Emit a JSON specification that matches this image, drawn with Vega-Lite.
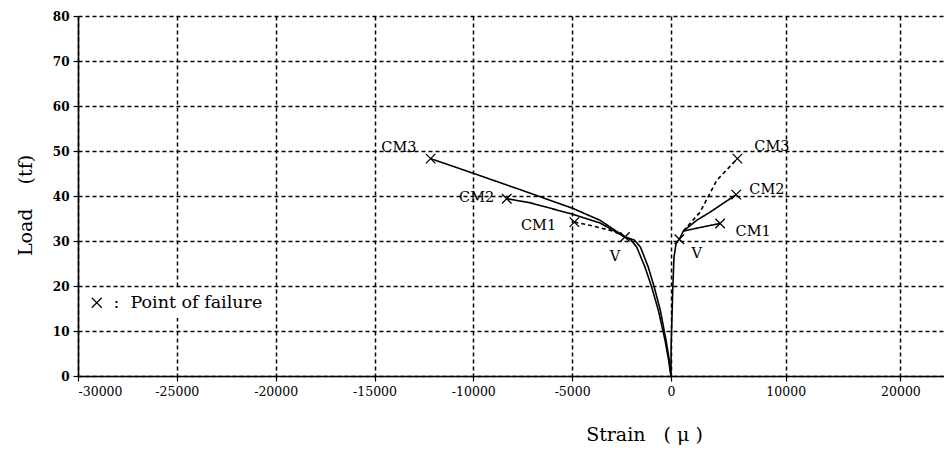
{
  "$schema": "https://vega.github.io/schema/vega-lite/v6.json",
  "autosize": {"type": "none"},
  "width": 866,
  "height": 360,
  "padding": {"left": 78, "top": 16, "right": 0, "bottom": 75},
  "background": "white",
  "config": {
    "view": {"stroke": null},
    "axis": {
      "domainColor": "black",
      "domainWidth": 1.6,
      "tickColor": "black",
      "tickWidth": 1.2,
      "tickSize": 5,
      "labelFont": "DejaVu Serif",
      "labelFontSize": 12.5,
      "labelColor": "black",
      "gridColor": "black",
      "gridDash": [4, 3],
      "gridWidth": 1.5,
      "gridOpacity": 1,
      "titleFont": "DejaVu Serif",
      "titleFontSize": 19,
      "titleFontWeight": "normal",
      "titleColor": "black"
    }
  },
  "datasets": {
    "curves": [
      {"series": "L-base1", "i": 0, "strain": 0, "load": 0, "dash": "solid"},
      {"series": "L-base1", "i": 1, "strain": -135, "load": 3.9, "dash": "solid"},
      {"series": "L-base1", "i": 2, "strain": -300, "load": 7.9, "dash": "solid"},
      {"series": "L-base1", "i": 3, "strain": -640, "load": 14.6, "dash": "solid"},
      {"series": "L-base1", "i": 4, "strain": -980, "load": 19.8, "dash": "solid"},
      {"series": "L-base1", "i": 5, "strain": -1315, "load": 24.2, "dash": "solid"},
      {"series": "L-base1", "i": 6, "strain": -1740, "load": 28.7, "dash": "solid"},
      {"series": "L-base1", "i": 7, "strain": -2050, "load": 30.3, "dash": "solid"},
      {"series": "L-base1", "i": 8, "strain": -2330, "load": 30.9, "dash": "solid"},
      {"series": "L-base2", "i": 0, "strain": 0, "load": 0, "dash": "solid"},
      {"series": "L-base2", "i": 1, "strain": -100, "load": 3.9, "dash": "solid"},
      {"series": "L-base2", "i": 2, "strain": -250, "load": 7.9, "dash": "solid"},
      {"series": "L-base2", "i": 3, "strain": -540, "load": 14.6, "dash": "solid"},
      {"series": "L-base2", "i": 4, "strain": -850, "load": 19.8, "dash": "solid"},
      {"series": "L-base2", "i": 5, "strain": -1150, "load": 24.2, "dash": "solid"},
      {"series": "L-base2", "i": 6, "strain": -1540, "load": 28.6, "dash": "solid"},
      {"series": "L-base2", "i": 7, "strain": -1850, "load": 30.2, "dash": "solid"},
      {"series": "L-base2", "i": 8, "strain": -2330, "load": 30.9, "dash": "solid"},
      {"series": "L-CM3", "i": 0, "strain": -2330, "load": 30.9, "dash": "solid"},
      {"series": "L-CM3", "i": 1, "strain": -3590, "load": 34.6, "dash": "solid"},
      {"series": "L-CM3", "i": 2, "strain": -4940, "load": 37.2, "dash": "solid"},
      {"series": "L-CM3", "i": 3, "strain": -7300, "load": 40.9, "dash": "solid"},
      {"series": "L-CM3", "i": 4, "strain": -10170, "load": 45.3, "dash": "solid"},
      {"series": "L-CM3", "i": 5, "strain": -12160, "load": 48.3, "dash": "solid"},
      {"series": "L-CM2", "i": 0, "strain": -2330, "load": 30.9, "dash": "solid"},
      {"series": "L-CM2", "i": 1, "strain": -3590, "load": 34.0, "dash": "solid"},
      {"series": "L-CM2", "i": 2, "strain": -4940, "load": 35.9, "dash": "solid"},
      {"series": "L-CM2", "i": 3, "strain": -7130, "load": 38.5, "dash": "solid"},
      {"series": "L-CM2", "i": 4, "strain": -8310, "load": 39.4, "dash": "solid"},
      {"series": "L-CM1", "i": 0, "strain": -2330, "load": 30.9, "dash": "dash"},
      {"series": "L-CM1", "i": 1, "strain": -2920, "load": 32.2, "dash": "dash"},
      {"series": "L-CM1", "i": 2, "strain": -4000, "load": 33.4, "dash": "dash"},
      {"series": "L-CM1", "i": 3, "strain": -4890, "load": 34.2, "dash": "dash"},
      {"series": "R-base", "i": 0, "strain": 0, "load": 0, "dash": "solid"},
      {"series": "R-base", "i": 1, "strain": 10, "load": 6.4, "dash": "solid"},
      {"series": "R-base", "i": 2, "strain": 150, "load": 19.0, "dash": "solid"},
      {"series": "R-base", "i": 3, "strain": 260, "load": 26.4, "dash": "solid"},
      {"series": "R-base", "i": 4, "strain": 440, "load": 29.4, "dash": "solid"},
      {"series": "R-base", "i": 5, "strain": 725, "load": 30.4, "dash": "solid"},
      {"series": "R-base", "i": 6, "strain": 1075, "load": 32.2, "dash": "solid"},
      {"series": "R-CM3", "i": 0, "strain": 1075, "load": 32.2, "dash": "dash"},
      {"series": "R-CM3", "i": 1, "strain": 1660, "load": 33.9, "dash": "dash"},
      {"series": "R-CM3", "i": 2, "strain": 2530, "load": 36.4, "dash": "dash"},
      {"series": "R-CM3", "i": 3, "strain": 3990, "load": 43.5, "dash": "dash"},
      {"series": "R-CM3", "i": 4, "strain": 5790, "load": 48.3, "dash": "dash"},
      {"series": "R-CM2", "i": 0, "strain": 1075, "load": 32.2, "dash": "solid"},
      {"series": "R-CM2", "i": 1, "strain": 2240, "load": 34.6, "dash": "solid"},
      {"series": "R-CM2", "i": 2, "strain": 3400, "load": 36.4, "dash": "solid"},
      {"series": "R-CM2", "i": 3, "strain": 5680, "load": 40.3, "dash": "solid"},
      {"series": "R-CM1", "i": 0, "strain": 1075, "load": 32.2, "dash": "solid"},
      {"series": "R-CM1", "i": 1, "strain": 2530, "load": 33.0, "dash": "solid"},
      {"series": "R-CM1", "i": 2, "strain": 4280, "load": 33.9, "dash": "solid"}
    ],
    "points": [
      {"strain": -12160, "load": 48.3, "kind": "Point of failure"},
      {"strain": -8310, "load": 39.4, "kind": "Point of failure"},
      {"strain": -4890, "load": 34.2, "kind": "Point of failure"},
      {"strain": -2330, "load": 30.9, "kind": "Point of failure"},
      {"strain": 5790, "load": 48.3, "kind": "Point of failure"},
      {"strain": 5680, "load": 40.3, "kind": "Point of failure"},
      {"strain": 4280, "load": 33.9, "kind": "Point of failure"},
      {"strain": 725, "load": 30.4, "kind": "Point of failure"}
    ],
    "labels": [
      {"strain": -13765, "load": 50.6, "text": "CM3"},
      {"strain": -9830, "load": 39.6, "text": "CM2"},
      {"strain": -6700, "load": 33.3, "text": "CM1"},
      {"strain": -2830, "load": 26.4, "text": "V"},
      {"strain": 8800, "load": 51.0, "text": "CM3"},
      {"strain": 8360, "load": 41.3, "text": "CM2"},
      {"strain": 7160, "load": 32.0, "text": "CM1"},
      {"strain": 2240, "load": 27.2, "text": "V"}
    ]
  },
  "encoding": {
    "x": {
      "field": "strain",
      "type": "quantitative",
      "scale": {"domain": [-30000, 0, 23800], "range": [0, 593, 866], "nice": false, "zero": false},
      "axis": {
        "values": [-30000, -25000, -20000, -15000, -10000, -5000, 0, 10000, 20000],
        "grid": true,
        "labelExpr": "datum.value < 0 ? '-' + abs(datum.value) : '' + datum.value",
        "labelPadding": 4,
        "title": "Strain\u00a0\u00a0\u00a0(\u00a0\u03bc\u00a0)",
        "titleX": 566,
        "titleY": 58,
        "titleAlign": "center",
        "titleBaseline": "middle"
      }
    },
    "y": {
      "field": "load",
      "type": "quantitative",
      "scale": {"domain": [0, 80], "nice": false, "zero": false},
      "axis": {
        "values": [0, 10, 20, 30, 40, 50, 60, 70, 80],
        "grid": true,
        "labelPadding": 4,
        "labelFontWeight": "bold",
        "labelFontSize": 12,
        "title": "Load\u00a0\u00a0\u00a0\u00a0(tf)",
        "titleX": -53,
        "titleY": 189,
        "titleAlign": "center",
        "titleBaseline": "middle",
        "titleAngle": -90
      }
    }
  },
  "layer": [
    {
      "data": {"name": "curves"},
      "mark": {"type": "line", "color": "black", "strokeWidth": 1.6},
      "encoding": {
        "detail": {"field": "series", "type": "nominal"},
        "order": {"field": "i", "type": "quantitative"},
        "strokeDash": {
          "field": "dash",
          "type": "nominal",
          "scale": {"domain": ["solid", "dash"], "range": [[1, 0], [4, 3]]},
          "legend": null
        }
      }
    },
    {
      "data": {"name": "points"},
      "mark": {"type": "point", "filled": false, "color": "black", "strokeWidth": 1.3, "size": 90, "opacity": 1},
      "encoding": {
        "shape": {
          "field": "kind",
          "type": "nominal",
          "scale": {"range": ["M-1,-1L1,1M-1,1L1,-1"]},
          "legend": {
            "orient": "none",
            "legendX": 4,
            "legendY": 272,
            "title": null,
            "fillColor": "white",
            "strokeColor": null,
            "padding": 6,
            "symbolSize": 100,
            "symbolStrokeColor": "black",
            "symbolStrokeWidth": 1.2,
            "symbolFillColor": "transparent",
            "labelFont": "DejaVu Serif",
            "labelFontSize": 17.5,
            "labelColor": "black",
            "labelOffset": 8,
            "labelLimit": 300,
            "labelExpr": "':\u00a0\u00a0' + datum.label"
          }
        }
      }
    },
    {
      "data": {"name": "labels"},
      "mark": {"type": "text", "font": "DejaVu Serif", "fontSize": 14.5, "color": "black", "align": "center", "baseline": "middle"},
      "encoding": {
        "text": {"field": "text", "type": "nominal"}
      }
    }
  ]
}
